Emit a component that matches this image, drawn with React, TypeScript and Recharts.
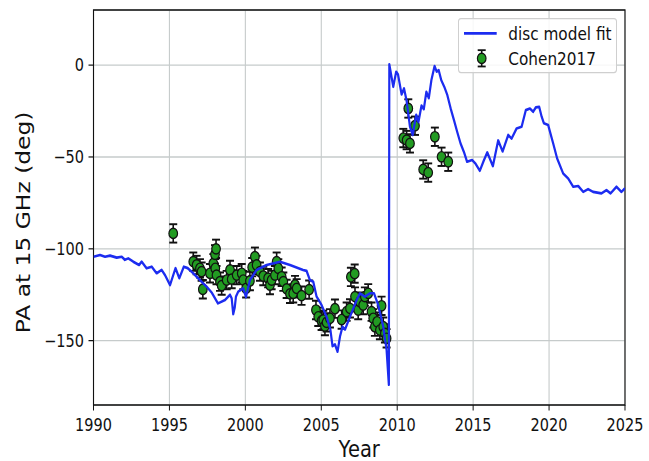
import React from 'react';
import {
  ComposedChart,
  Line,
  Scatter,
  ErrorBar,
  XAxis,
  YAxis,
  CartesianGrid,
  ReferenceArea,
  Legend,
  Label,
} from 'recharts';

// Figure geometry: the chart is laid out in a shorter box and stretched vertically.
const FIG_W = 649;
const FIG_H = 461;
const STRETCH = 1.2;
const CHART_H = FIG_H / STRETCH;

const FONT = '"DejaVu Sans", Verdana, sans-serif';
const TEXT = '#111111';
const BLUE = '#1c2cf0';
const GREEN = '#229b22';
const GRID = '#c6cbcb';
const MARKER_R = 4.3;
const CAP_HALF = 4;

const X_TICKS = [1990, 1995, 2000, 2005, 2010, 2015, 2020, 2025];
const Y_TICKS = [-150, -100, -50, 0];
const X_DOMAIN: [number, number] = [1990, 2025];
const Y_DOMAIN: [number, number] = [-185, 30];

// disc model fit (year, PA in deg)
const MODEL_YEARS = [
  1990.0, 1990.43, 1990.76, 1991.09, 1991.53, 1991.86, 1992.07, 1992.29, 1992.62, 1993.0,
  1993.17, 1993.5, 1993.83, 1994.16, 1994.49, 1994.71, 1995.04, 1995.4, 1995.65, 1995.95,
  1996.2, 1996.57, 1997.0, 1997.45, 1997.8, 1998.2, 1998.66, 1998.99, 1999.1, 1999.2,
  1999.3, 1999.38, 1999.53, 1999.86, 2000.04, 2000.3, 2000.74, 2001.4, 2002.28, 2002.94,
  2003.8, 2004.03, 2004.25, 2004.47, 2004.69, 2005.02, 2005.35, 2005.6, 2005.74, 2005.9,
  2006.07, 2006.23, 2006.4, 2006.56, 2006.89, 2007.33, 2007.55, 2007.87, 2008.2, 2008.47,
  2008.75, 2009.08, 2009.3, 2009.45, 2009.48, 2009.74, 2009.93, 2010.05, 2010.29, 2010.45,
  2010.62, 2010.84, 2011.02, 2011.25, 2011.4, 2011.6, 2011.75, 2011.92, 2012.08, 2012.25,
  2012.46, 2012.6, 2012.73, 2012.9, 2013.1, 2013.3, 2013.52, 2013.74, 2013.95, 2014.17,
  2014.39, 2014.6, 2014.93, 2015.15, 2015.44, 2015.7, 2015.93, 2016.3, 2016.65, 2016.94,
  2017.31, 2017.53, 2017.86, 2018.19, 2018.47, 2018.74, 2018.95, 2019.13, 2019.35, 2019.51,
  2019.66, 2019.94, 2020.27, 2020.53, 2020.93, 2021.26, 2021.59, 2021.92, 2022.25, 2022.57,
  2022.9, 2023.45, 2023.78, 2024.05, 2024.44, 2024.77, 2025.0,
];
const MODEL_PA = [
  -104.3, -103.4, -104.3, -103.7, -104.8, -104.3, -106.0, -105.2, -107.0, -108.8,
  -107.0, -110.6, -109.7, -113.3, -111.5, -114.3, -119.7, -110.5, -116.0, -109.7,
  -110.5, -113.3, -117.0, -120.6, -124.0, -129.7, -127.9, -125.0, -127.0, -135.5,
  -132.0, -126.0, -123.3, -121.5, -126.3, -117.0, -111.5, -108.8, -107.0, -108.8,
  -111.5, -112.0, -117.0, -117.9, -126.0, -130.6, -137.0, -144.0, -153.0, -152.0,
  -156.0, -147.8, -142.4, -144.0, -137.0, -127.9, -124.2, -126.0, -124.2, -124.2,
  -130.6, -142.4, -155.0, -174.0, 0.5, -11.8, -3.6, -5.0, -16.0, -12.7,
  -19.5, -33.6, -38.0, -27.0, -31.0, -22.0, -24.0, -14.5, -18.0, -8.2,
  -0.5, -3.6, -2.7, -8.2, -11.8, -16.3, -23.6, -30.0, -36.3, -42.6,
  -47.2, -52.6, -51.7, -53.5, -57.5, -52.0, -47.5, -55.0, -41.0, -47.0,
  -38.0, -40.0, -34.5, -33.6, -24.5, -23.6, -25.4, -23.0, -22.7, -28.0,
  -31.7, -32.6, -42.6, -50.8, -59.0, -61.7, -66.2, -65.8, -69.0, -67.5,
  -69.0, -69.8, -68.0, -69.8, -66.2, -69.0, -67.0,
];

// Cohen2017 measurements (year, PA in deg) with a common 1-sigma error
const COHEN_YEARS = [
  1995.25, 1996.57, 1996.79, 1997.01, 1997.12, 1997.2, 1997.67, 1997.89, 1998.0, 1998.07,
  1998.02, 1998.1, 1998.33, 1998.44, 1998.77, 1998.99, 1999.1, 1999.43, 1999.76, 1999.86,
  2000.05, 2000.3, 2000.45, 2000.63, 2000.74, 2000.96, 2001.18, 2001.5, 2001.62, 2001.73,
  2001.95, 2002.06, 2002.17, 2002.39, 2002.5, 2002.72, 2002.94, 2003.15, 2003.27, 2003.38,
  2003.7, 2004.2, 2004.65, 2004.8, 2005.02, 2005.13, 2005.24, 2005.35, 2005.57, 2005.9,
  2006.34, 2006.67, 2006.89, 2006.95, 2007.2, 2007.22, 2007.43, 2007.55, 2007.76, 2007.87,
  2008.09, 2008.31, 2008.42, 2008.53, 2008.68, 2008.86, 2008.97, 2009.08, 2009.19, 2009.3,
  2010.4, 2010.62, 2010.73, 2010.84, 2011.17, 2011.71, 2012.04, 2012.48, 2012.92, 2013.36,
];
const COHEN_PA = [
  -91.6, -107.0, -108.8, -110.6, -112.4, -122.0, -113.3, -107.9, -103.0, -100.0,
  -110.6, -114.3, -117.9, -120.0, -117.0, -111.5, -116.5, -114.3, -113.3, -117.0,
  -121.5, -117.5, -110.0, -104.3, -108.8, -112.4, -114.8, -116.0, -119.7, -117.0,
  -114.3, -107.0, -110.6, -115.2, -117.9, -121.8, -124.5, -124.2, -119.7, -121.5,
  -125.5, -122.2, -133.3, -137.0, -139.2, -138.7, -142.0, -140.0, -137.8, -132.6,
  -138.5, -134.2, -132.4, -115.3, -113.5, -126.0, -133.3, -128.8, -130.6, -126.0,
  -124.2, -134.2, -137.8, -142.4, -139.7, -144.2, -131.0, -142.4, -146.0, -148.7,
  -39.7, -40.8, -23.6, -42.6, -33.0, -56.8, -58.5, -39.0, -49.9, -52.6,
];
const COHEN_ERR = 5;

const SERIES_NAMES = ['disc model fit', 'Cohen2017'];

const modelData = MODEL_YEARS.map((year, i) => ({ year, pa: MODEL_PA[i] }));
const cohenData = COHEN_YEARS.map((year, i) => ({ year, pa: COHEN_PA[i], err: COHEN_ERR }));

const fmtY = (v: number) => (v < 0 ? `\u2212${Math.abs(v)}` : `${v}`);

const renderMarker = (props: any) => {
  if (props == null || props.cx == null || props.cy == null) return <g />;
  return (
    <circle cx={props.cx} cy={props.cy} r={MARKER_R} fill={GREEN} stroke={TEXT} strokeWidth={1.2} />
  );
};

const renderXLabel = (props: any) => {
  const vb = props && props.viewBox ? props.viewBox : { x: 93.5, width: 531.5 };
  return (
    <text
      x={vb.x + vb.width / 2}
      y={380.6}
      textAnchor="middle"
      fontFamily={FONT}
      fontSize={19.5}
      fill={TEXT}
    >
      Year
    </text>
  );
};

const renderYLabel = () => (
  <text
    x={23.5}
    y={185.4}
    transform="rotate(-90, 23.5, 185.4)"
    textAnchor="middle"
    dominantBaseline="central"
    fontFamily={FONT}
    fontSize={19.5}
    fill={TEXT}
  >
    PA at 15 GHz (deg)
  </text>
);

const LEG_W = 159;
const LEG_H = 45.3;
const LEG_ERR = 6.8;

const renderLegend = () => (
  <div
    style={{
      width: LEG_W,
      height: LEG_H,
      boxSizing: 'border-box',
      border: '1px solid #cfcfcf',
      borderRadius: 3,
      background: 'rgba(255,255,255,0.85)',
      position: 'relative',
    }}
  >
    <svg
      width={LEG_W}
      height={LEG_H}
      style={{ position: 'absolute', left: -1, top: -1, overflow: 'visible' }}
    >
      <line x1={6} x2={38.7} y1={12.8} y2={12.8} stroke={BLUE} strokeWidth={2.2} />
      <text x={50.3} y={12.8} dominantBaseline="central" fontFamily={FONT} fontSize={15.3} fill={TEXT}>
        {SERIES_NAMES[0]}
      </text>
      <line x1={23.7} x2={23.7} y1={33.6 - LEG_ERR} y2={33.6 + LEG_ERR} stroke={TEXT} strokeWidth={1.6} />
      <line x1={23.7 - CAP_HALF} x2={23.7 + CAP_HALF} y1={33.6 - LEG_ERR} y2={33.6 - LEG_ERR} stroke={TEXT} strokeWidth={1.5} />
      <line x1={23.7 - CAP_HALF} x2={23.7 + CAP_HALF} y1={33.6 + LEG_ERR} y2={33.6 + LEG_ERR} stroke={TEXT} strokeWidth={1.5} />
      <circle cx={23.7} cy={33.6} r={MARKER_R} fill={GREEN} stroke={TEXT} strokeWidth={1.2} />
      <text x={50.3} y={33.6} dominantBaseline="central" fontFamily={FONT} fontSize={15.3} fill={TEXT}>
        {SERIES_NAMES[1]}
      </text>
    </svg>
  </div>
);

export default function App() {
  return (
    <div
      style={{
        position: 'absolute',
        left: 0,
        top: 0,
        width: FIG_W,
        height: FIG_H,
        overflow: 'hidden',
        background: '#ffffff',
      }}
    >
      <div
        style={{
          width: FIG_W,
          height: CHART_H,
          transform: `scaleY(${STRETCH})`,
          transformOrigin: 'top left',
        }}
      >
        <ComposedChart
          width={FIG_W}
          height={CHART_H}
          margin={{ top: 10 / STRETCH, right: 24, bottom: 0, left: 0 }}
          style={{ overflow: 'visible' }}
        >
          <CartesianGrid stroke={GRID} strokeWidth={1.1} />
          <XAxis
            type="number"
            dataKey="year"
            domain={X_DOMAIN}
            ticks={X_TICKS}
            allowDataOverflow
            height={CHART_H - 405 / STRETCH}
            axisLine={false}
            tickLine={{ stroke: TEXT, strokeWidth: 1 }}
            tickSize={4.5}
            tickMargin={7}
            tick={{ fill: TEXT, fontSize: 14.5, fontFamily: FONT }}
            interval={0}
          >
            <Label content={renderXLabel} />
          </XAxis>
          <YAxis
            type="number"
            dataKey="pa"
            domain={Y_DOMAIN}
            ticks={Y_TICKS}
            allowDataOverflow
            width={93.5}
            axisLine={false}
            tickLine={{ stroke: TEXT, strokeWidth: 1 }}
            tickSize={5}
            tickMargin={4.5}
            tickFormatter={fmtY}
            tick={{ fill: TEXT, fontSize: 14.5, fontFamily: FONT }}
            interval={0}
          >
            <Label content={renderYLabel} />
          </YAxis>
          <ReferenceArea
            x1={X_DOMAIN[0]}
            x2={X_DOMAIN[1]}
            y1={Y_DOMAIN[0]}
            y2={Y_DOMAIN[1]}
            fill="none"
            fillOpacity={0}
            stroke={TEXT}
            strokeWidth={1.1}
            ifOverflow="visible"
          />
          <Scatter
            name={SERIES_NAMES[1]}
            data={cohenData}
            dataKey="pa"
            shape={renderMarker}
            isAnimationActive={false}
          >
            <ErrorBar dataKey="err" direction="y" width={CAP_HALF} stroke={TEXT} strokeWidth={1.6} />
          </Scatter>
          <Line
            name={SERIES_NAMES[0]}
            data={modelData}
            dataKey="pa"
            type="linear"
            stroke={BLUE}
            strokeWidth={2.2}
            strokeLinejoin="round"
            dot={false}
            activeDot={false}
            isAnimationActive={false}
            zIndex={700}
          />
          <Legend
            layout="horizontal"
            verticalAlign="middle"
            align="center"
            content={renderLegend}
            wrapperStyle={{ left: 458.3, top: 15.3, width: LEG_W, height: LEG_H }}
          />
        </ComposedChart>
      </div>
    </div>
  );
}
